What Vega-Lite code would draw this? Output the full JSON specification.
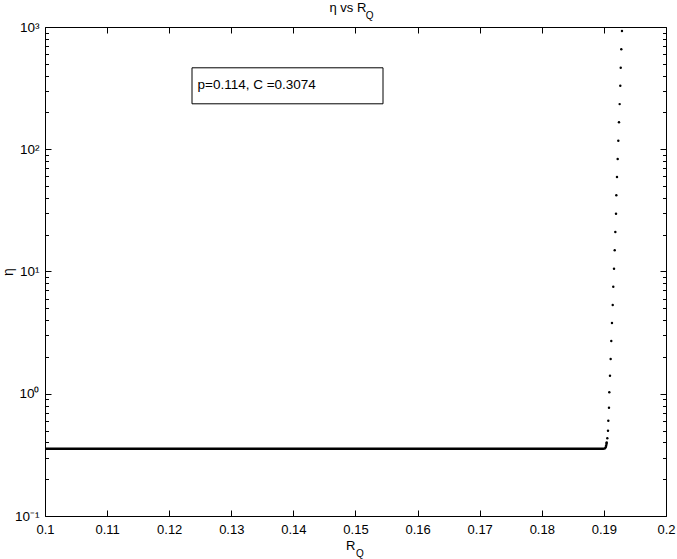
{
  "$schema": "https://vega.github.io/schema/vega-lite/v6.json",
  "width": 621,
  "height": 489,
  "autosize": {"type": "none"},
  "padding": {"left": 45, "top": 27, "right": 11, "bottom": 43},
  "background": "white",
  "config": {
    "font": "Liberation Sans",
    "view": {"stroke": null},
    "axis": {
      "domainColor": "black",
      "tickColor": "black",
      "labelColor": "black",
      "titleColor": "black",
      "grid": false,
      "labelFont": "Liberation Sans",
      "titleFont": "Liberation Sans",
      "labelFontSize": 13,
      "titleFontWeight": "normal",
      "domainWidth": 1,
      "tickWidth": 1,
      "labelFlush": false,
      "labelOverlap": false,
      "labelBound": false
    }
  },
  "title": {
    "text": "η vs R\u00a0\u00a0\u200b",
    "subtitle": "Q",
    "anchor": "middle",
    "frame": "group",
    "align": "right",
    "dx": 18,
    "font": "Liberation Sans",
    "fontSize": 13,
    "fontWeight": "normal",
    "color": "black",
    "subtitleFont": "Liberation Sans",
    "subtitleFontSize": 10,
    "subtitleColor": "black",
    "subtitlePadding": -4,
    "offset": -1
  },
  "datasets": {
    "curve": [
      {"R_Q": 0.1, "eta": 0.3553},
      {"R_Q": 0.1899, "eta": 0.3553},
      {"R_Q": 0.19015, "eta": 0.3575},
      {"R_Q": 0.1903, "eta": 0.366},
      {"R_Q": 0.1904, "eta": 0.385},
      {"R_Q": 0.19045, "eta": 0.399}
    ],
    "dots": [
      {"R_Q": 0.19291, "eta": 927},
      {"R_Q": 0.1928, "eta": 657},
      {"R_Q": 0.19271, "eta": 464},
      {"R_Q": 0.19264, "eta": 331},
      {"R_Q": 0.19254, "eta": 234},
      {"R_Q": 0.19243, "eta": 166},
      {"R_Q": 0.19232, "eta": 117.5},
      {"R_Q": 0.19222, "eta": 83.2},
      {"R_Q": 0.19211, "eta": 59.3},
      {"R_Q": 0.192, "eta": 42.0},
      {"R_Q": 0.19195, "eta": 29.7},
      {"R_Q": 0.19184, "eta": 21.05},
      {"R_Q": 0.19174, "eta": 14.9},
      {"R_Q": 0.19163, "eta": 10.54},
      {"R_Q": 0.19151, "eta": 7.51},
      {"R_Q": 0.19142, "eta": 5.32},
      {"R_Q": 0.1913, "eta": 3.79},
      {"R_Q": 0.19119, "eta": 2.7},
      {"R_Q": 0.19109, "eta": 1.924},
      {"R_Q": 0.19098, "eta": 1.405},
      {"R_Q": 0.19087, "eta": 1.028},
      {"R_Q": 0.19082, "eta": 0.769},
      {"R_Q": 0.19071, "eta": 0.602},
      {"R_Q": 0.19066, "eta": 0.4985},
      {"R_Q": 0.19055, "eta": 0.432},
      {"R_Q": 0.19045, "eta": 0.399}
    ]
  },
  "layer": [
    {
      "data": {"name": "curve"},
      "mark": {"type": "line", "color": "black", "strokeWidth": 2.4},
      "encoding": {
        "x": {
          "field": "R_Q",
          "type": "quantitative",
          "scale": {"domain": [0.1, 0.2], "nice": false, "zero": false},
          "axis": {
            "orient": "bottom",
            "values": [0.1, 0.11, 0.12, 0.13, 0.14, 0.15, 0.16, 0.17, 0.18, 0.19, 0.2],
            "format": ".2~f",
            "tickSize": -6,
            "labelPadding": 13,
            "title": "R",
            "titleX": 310,
            "titleY": 33,
            "titleAlign": "right",
            "titleBaseline": "alphabetic",
            "titleFontSize": 13,
            "titleAngle": 0
          }
        },
        "y": {
          "field": "eta",
          "type": "quantitative",
          "scale": {"type": "log", "domain": [0.1, 1000], "nice": false},
          "axis": {
            "orient": "left",
            "values": [0.1, 0.2, 0.3, 0.4, 0.5, 0.6, 0.7, 0.8, 0.9, 1, 2, 3, 4, 5, 6, 7, 8, 9, 10, 20, 30, 40, 50, 60, 70, 80, 90, 100, 200, 300, 400, 500, 600, 700, 800, 900, 1000],
            "labelExpr": "abs(log(datum.value)/LN10 - round(log(datum.value)/LN10)) < 0.001 ? '10' + ['⁻¹','⁰','¹','²','³'][round(log(datum.value)/LN10) + 1] : ''",
            "tickSize": {"condition": {"test": "abs(log(datum.value)/LN10 - round(log(datum.value)/LN10)) < 0.001", "value": -6}, "value": -3.5},
            "labelPadding": 12,
            "labelBaseline": "middle",
            "labelFontSize": 13.5,
            "title": "η",
            "titleX": -37,
            "titleY": 244.5,
            "titleAngle": 270,
            "titleAlign": "center",
            "titleBaseline": "middle",
            "titleFontSize": 14
          }
        }
      }
    },
    {
      "data": {"name": "dots"},
      "mark": {"type": "circle", "size": 6, "opacity": 1},
      "encoding": {
        "x": {
          "field": "R_Q",
          "type": "quantitative",
          "scale": {"domain": [0.1, 0.2], "nice": false, "zero": false},
          "axis": {
            "orient": "top",
            "values": [0.1, 0.11, 0.12, 0.13, 0.14, 0.15, 0.16, 0.17, 0.18, 0.19, 0.2],
            "labels": false,
            "tickSize": -6,
            "title": "Q",
            "titleX": 310.5,
            "titleY": 529,
            "titleAlign": "left",
            "titleBaseline": "alphabetic",
            "titleFontSize": 10,
            "titleAngle": 0
          }
        },
        "y": {
          "field": "eta",
          "type": "quantitative",
          "scale": {"type": "log", "domain": [0.1, 1000], "nice": false},
          "axis": {
            "orient": "right",
            "values": [0.1, 0.2, 0.3, 0.4, 0.5, 0.6, 0.7, 0.8, 0.9, 1, 2, 3, 4, 5, 6, 7, 8, 9, 10, 20, 30, 40, 50, 60, 70, 80, 90, 100, 200, 300, 400, 500, 600, 700, 800, 900, 1000],
            "labels": false,
            "tickSize": {"condition": {"test": "abs(log(datum.value)/LN10 - round(log(datum.value)/LN10)) < 0.001", "value": -6}, "value": -3.5},
            "title": null
          }
        },
        "color": {
          "datum": "p=0.114, C =0.3074",
          "type": "nominal",
          "scale": {"range": ["black"]},
          "legend": {
            "orient": "none",
            "legendX": 146.5,
            "legendY": 40.3,
            "title": null,
            "strokeColor": "black",
            "fillColor": "white",
            "padding": 6,
            "symbolSize": 576,
            "symbolOpacity": 0,
            "symbolStrokeWidth": 0,
            "labelOffset": -24,
            "labelFont": "Liberation Sans",
            "labelFontSize": 13.5,
            "labelColor": "black",
            "labelLimit": 0,
            "labelExpr": "datum.label + '\u00a0\u00a0\u00a0\u00a0\u00a0\u00a0\u00a0\u00a0\u00a0\u00a0\u00a0\u00a0\u00a0\u00a0\u00a0\u00a0\u200b'"
          }
        }
      }
    }
  ],
  "resolve": {"axis": {"x": "independent", "y": "independent"}}
}
